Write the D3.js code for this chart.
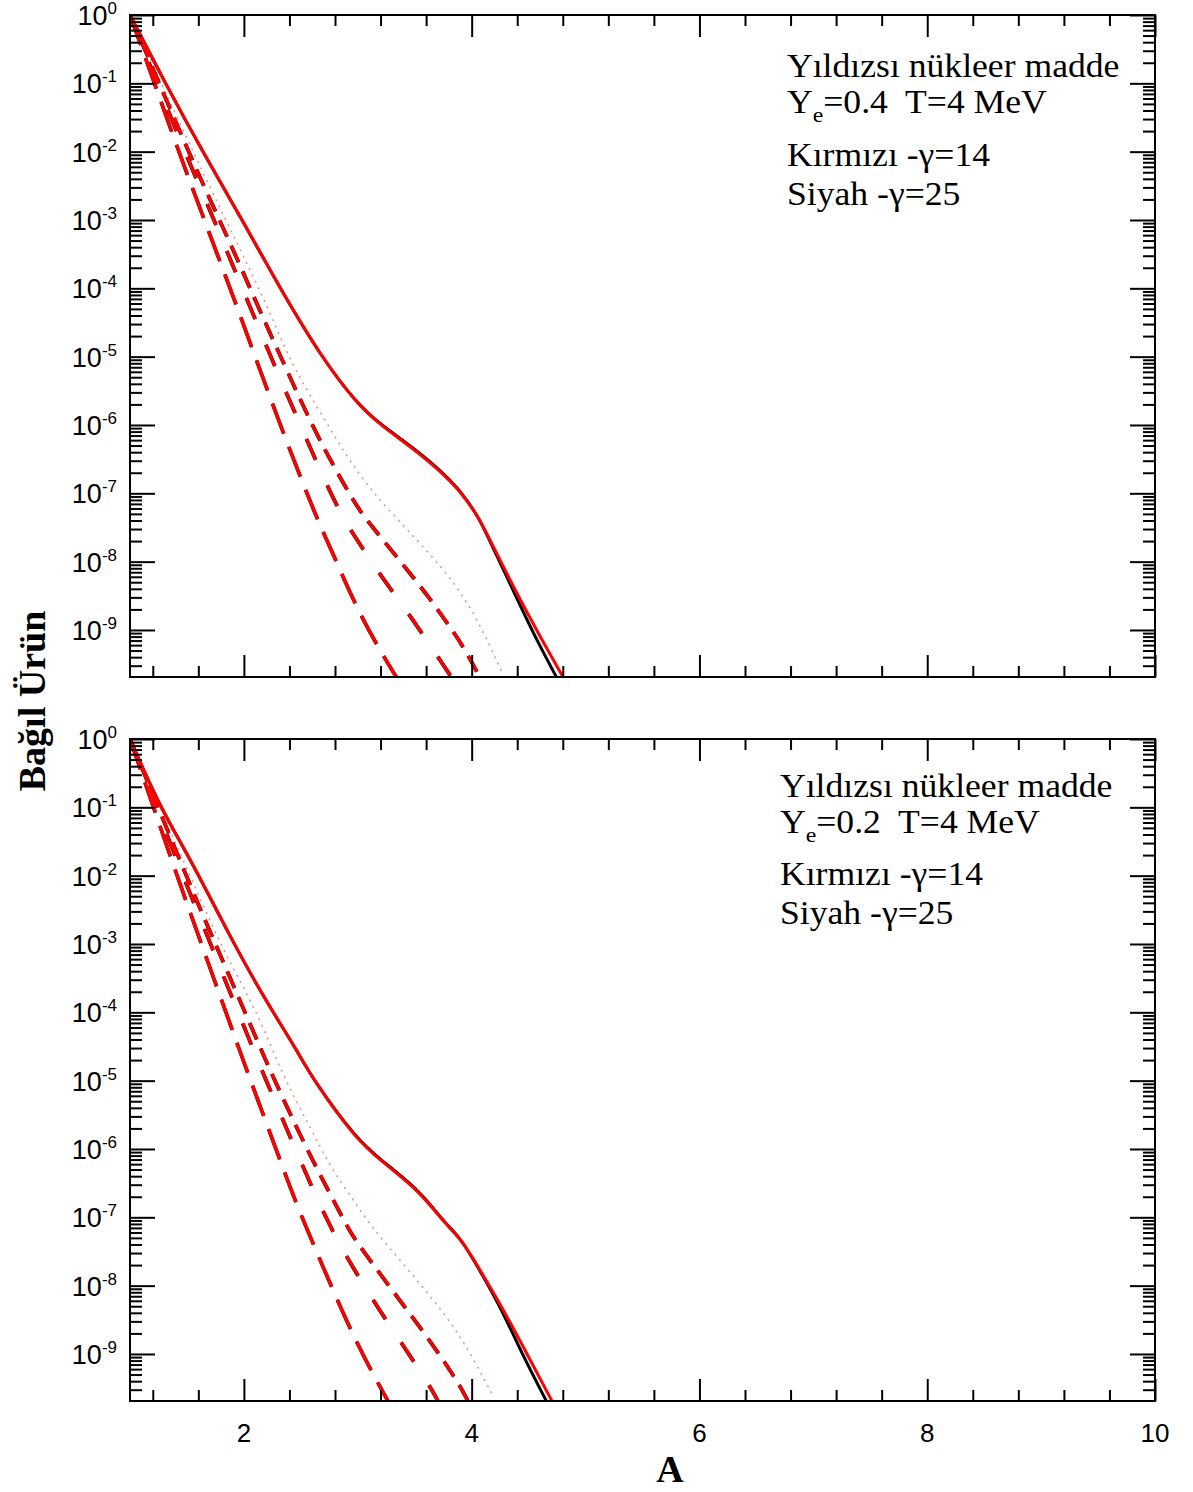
<!DOCTYPE html>
<html>
<head>
<meta charset="utf-8">
<script src="https://cdn.jsdelivr.net/npm/d3@7"></script>
<style>
  body { margin: 0; background: #fff; }
  text { white-space: pre; }
</style>
</head>
<body>
<svg id="chart" width="1193" height="1492"></svg>
<script>
// ---- data: [A, log10(relative yield)] ----
const xMajorTicks = [2, 4, 6, 8, 10];
const yExponents = [0, -1, -2, -3, -4, -5, -6, -7, -8, -9];

// upper panel, Ye = 0.4
const topSolidRed = [[1, 0], [1.31, -1.0], [1.638, -2.0], [1.986, -3.0], [2.317, -4.0], [2.697, -5.049],
  [2.991, -5.683], [3.195, -6.0], [3.546, -6.415], [3.839, -6.854], [3.956, -7.098], [4.073, -7.391],
  [4.132, -7.586], [4.395, -8.463], [4.585, -9.049], [4.805, -9.699]];
const topSolidBlack = [[1, 0], [1.31, -1.0], [1.638, -2.0], [1.986, -3.0], [2.317, -4.0], [2.697, -5.049],
  [2.991, -5.68], [3.195, -5.99], [3.546, -6.40], [3.839, -6.84], [3.956, -7.09], [4.073, -7.39],
  [4.132, -7.6], [4.395, -8.53], [4.541, -9.049], [4.747, -9.699]];
const topLongDash = [[1, 0], [1.278, -1.292], [1.41, -1.917], [1.65, -2.99], [1.937, -4.254], [2.074, -4.892],
  [2.355, -6.161], [2.645, -7.391], [2.756, -7.781], [2.996, -8.708], [3.21, -9.341], [3.342, -9.699]];
const topDash1 = [[1, 0], [1.474, -1.986], [1.717, -2.912], [1.878, -3.571], [2.045, -4.229], [2.206, -4.888],
  [2.545, -6.195], [2.721, -6.854], [2.829, -7.219], [2.879, -7.391], [3.18, -8.162], [3.473, -8.815],
  [3.825, -9.699]];
const topDash2 = [[1, 0], [1.615, -2.4], [1.867, -3.283], [2.133, -4.303], [2.317, -4.976], [2.595, -6.0],
  [2.815, -6.684], [2.976, -7.146], [3.063, -7.366], [3.57, -8.39], [3.766, -8.857], [3.912, -9.195],
  [4.073, -9.699]];
const topDotted = [[1, 0], [1.586, -2.122], [1.849, -3.025], [2.025, -3.634], [2.229, -4.342], [2.405, -5.074],
  [2.668, -5.806], [2.903, -6.464], [3.136, -7.0], [3.342, -7.366], [3.546, -7.732], [3.81, -8.22],
  [4.044, -8.806], [4.278, -9.659]];

// lower panel, Ye = 0.2
const botSolidRed = [[1, 0], [1.263, -1.0], [1.536, -1.771], [1.878, -2.893], [2.17, -3.771], [2.464, -4.551],
  [2.609, -4.99], [2.991, -5.869], [3.195, -6.161], [3.546, -6.625], [3.737, -7.039], [3.897, -7.307],
  [3.985, -7.527], [4.249, -8.258], [4.483, -8.99], [4.708, -9.698]];
const botSolidBlack = [[1, 0], [1.263, -1.0], [1.536, -1.771], [1.878, -2.893], [2.17, -3.771], [2.464, -4.551],
  [2.609, -4.99], [2.991, -5.86], [3.195, -6.15], [3.546, -6.61], [3.737, -7.03], [3.897, -7.30],
  [3.985, -7.53], [4.249, -8.29], [4.439, -8.99], [4.659, -9.698]];
const botLongDash = [[1, 0], [1.395, -1.917], [1.623, -2.981], [1.896, -4.249], [2.033, -4.884], [2.317, -6.161],
  [2.458, -6.795], [2.595, -7.332], [2.668, -7.625], [2.947, -8.697], [3.145, -9.332], [3.268, -9.698]];
const botDash1 = [[1, 0], [1.454, -1.965], [1.688, -2.917], [1.843, -3.566], [2.001, -4.21], [2.162, -4.869],
  [2.499, -6.186], [2.674, -6.845], [2.785, -7.211], [2.815, -7.332], [3.107, -8.152], [3.371, -8.806],
  [3.628, -9.454], [3.707, -9.698]];
const botDash2 = [[1, 0], [1.586, -2.381], [1.825, -3.283], [2.089, -4.307], [2.264, -4.98], [2.551, -6.0],
  [2.762, -6.674], [2.908, -7.137], [2.976, -7.332], [3.289, -8.039], [3.599, -8.722], [3.874, -9.391],
  [3.97, -9.698]];
const botDotted = [[1, 0], [1.6, -2.283], [1.834, -3.136], [1.995, -3.625], [2.17, -4.21], [2.346, -4.942],
  [2.58, -5.674], [2.756, -6.259], [2.961, -6.747], [3.107, -7.113], [3.356, -7.6], [3.605, -8.088],
  [3.825, -8.551], [4.014, -9.063], [4.19, -9.625]];

const legendLines = ['Yıldızsı nükleer madde', 'Kırmızı -γ=14', 'Siyah -γ=25'];

// ---- layout ----
const svg = d3.select('#chart');
const left = 130, right = 1155;
const yMin = 2.05e-10;
const serif = '"Liberation Serif", "Times New Roman", serif';
const sans = '"Liberation Sans", Arial, sans-serif';

const x = d3.scaleLinear().domain([1, 10]).range([left, right]);

const panels = [
  { top: 15, bottom: 677, ye: '0.4', lx: 787, ly: [77, 113, 166, 205], xLabels: false,
    solidRed: topSolidRed, solidBlack: topSolidBlack, longDash: topLongDash,
    dash1: topDash1, dash2: topDash2, dotted: topDotted },
  { top: 739, bottom: 1401, ye: '0.2', lx: 780, ly: [797, 833, 885, 924], xLabels: true,
    solidRed: botSolidRed, solidBlack: botSolidBlack, longDash: botLongDash,
    dash1: botDash1, dash2: botDash2, dotted: botDotted },
];

const xMinor = d3.range(1.2, 10, 0.4).filter((v) => Math.abs(v / 2 - Math.round(v / 2)) > 0.01);
const yMajor = yExponents.map((e) => Math.pow(10, e));
const yMinor = [];
for (let e = -10; e < 0; e++) {
  for (let k = 2; k <= 9; k++) {
    const v = k * Math.pow(10, e);
    if (v >= yMin && v < 1) yMinor.push(v);
  }
}

panels.forEach((p, i) => {
  const y = d3.scaleLog().domain([yMin, 1]).range([p.bottom, p.top]);
  const g = svg.append('g');

  g.append('clipPath').attr('id', `clip${i}`)
    .append('rect')
    .attr('x', left).attr('y', p.top)
    .attr('width', right - left).attr('height', p.bottom - p.top);

  const line = d3.line()
    .x((d) => x(d[0]))
    .y((d) => y(Math.pow(10, d[1])))
    .curve(d3.curveBasis);

  const plot = g.append('g').attr('clip-path', `url(#clip${i})`).attr('fill', 'none');

  // faint dotted curve
  plot.append('path').attr('d', line(p.dotted))
    .attr('stroke', '#ec8a8a').attr('stroke-width', 1.5).attr('stroke-dasharray', '2,5');

  // black (gamma = 25) underneath
  plot.append('path').attr('d', line(p.longDash))
    .attr('stroke', '#000').attr('stroke-width', 3.6).attr('stroke-dasharray', '32,14');
  plot.append('path').attr('d', line(p.dash1))
    .attr('stroke', '#000').attr('stroke-width', 3.8).attr('stroke-dasharray', '23,28');
  plot.append('path').attr('d', line(p.dash2))
    .attr('stroke', '#000').attr('stroke-width', 3.8).attr('stroke-dasharray', '18,10');
  plot.append('path').attr('d', line(p.solidBlack))
    .attr('stroke', '#000').attr('stroke-width', 3);

  // red (gamma = 14) on top
  plot.append('path').attr('d', line(p.longDash))
    .attr('stroke', '#ff0000').attr('stroke-width', 3.4).attr('stroke-dasharray', '32,14');
  plot.append('path').attr('d', line(p.dash1))
    .attr('stroke', '#ff0000').attr('stroke-width', 3.2).attr('stroke-dasharray', '23,28');
  plot.append('path').attr('d', line(p.dash2))
    .attr('stroke', '#ff0000').attr('stroke-width', 3.2).attr('stroke-dasharray', '18,10');
  plot.append('path').attr('d', line(p.solidRed))
    .attr('stroke', '#ff0000').attr('stroke-width', 3);

  // axes, ticks pointing inward
  const axes = g.append('g');
  const addAxis = (axis, tx, ty) => {
    const a = axes.append('g').attr('transform', `translate(${tx},${ty})`).call(axis);
    a.selectAll('text').remove();
    a.select('.domain').remove();
    a.selectAll('line').attr('stroke', '#000').attr('stroke-width', 2);
  };
  addAxis(d3.axisLeft(y).tickValues(yMajor).tickSize(-25), left, 0);
  addAxis(d3.axisLeft(y).tickValues(yMinor).tickSize(-12), left, 0);
  addAxis(d3.axisRight(y).tickValues(yMajor).tickSize(-25), right, 0);
  addAxis(d3.axisRight(y).tickValues(yMinor).tickSize(-12), right, 0);
  addAxis(d3.axisTop(x).tickValues(xMajorTicks).tickSize(-22), 0, p.top);
  addAxis(d3.axisTop(x).tickValues(xMinor).tickSize(-11), 0, p.top);
  addAxis(d3.axisBottom(x).tickValues(xMajorTicks).tickSize(-22), 0, p.bottom);
  addAxis(d3.axisBottom(x).tickValues(xMinor).tickSize(-11), 0, p.bottom);

  g.append('rect')
    .attr('x', left).attr('y', p.top)
    .attr('width', right - left).attr('height', p.bottom - p.top)
    .attr('fill', 'none').attr('stroke', '#000').attr('stroke-width', 2);

  // y tick labels 10^n
  yExponents.forEach((e) => {
    const t = g.append('text')
      .attr('x', 117).attr('y', y(Math.pow(10, e)) + 10)
      .attr('text-anchor', 'end')
      .attr('font-family', sans).attr('font-size', 27);
    t.append('tspan').text('10');
    t.append('tspan').attr('dy', -11).attr('font-size', 17).text(String(e));
  });

  if (p.xLabels) {
    g.selectAll('.xl').data(xMajorTicks).enter().append('text')
      .attr('x', (d) => x(d)).attr('y', p.bottom + 41)
      .attr('text-anchor', 'middle')
      .attr('font-family', sans).attr('font-size', 26)
      .text((d) => d);
  }

  // legend text
  const lg = g.append('g')
    .attr('transform', `translate(${p.lx},0) scale(1.08,1)`)
    .attr('font-family', serif).attr('font-size', 33).attr('fill', '#000');
  lg.append('text').attr('x', 0).attr('y', p.ly[0]).text(legendLines[0]);
  const ye = lg.append('text').attr('x', 0).attr('y', p.ly[1]);
  ye.append('tspan').text('Y');
  ye.append('tspan').attr('dy', 9).attr('font-size', 22).text('e');
  ye.append('tspan').attr('dy', -9).text(`=${p.ye}  T=4 MeV`);
  lg.append('text').attr('x', 0).attr('y', p.ly[2]).text(legendLines[1]);
  lg.append('text').attr('x', 0).attr('y', p.ly[3]).text(legendLines[2]);
});

// axis titles
svg.append('text')
  .attr('transform', 'translate(45,701) rotate(-90)')
  .attr('text-anchor', 'middle')
  .attr('font-family', serif).attr('font-weight', 'bold').attr('font-size', 38)
  .text('Bağıl Ürün');

svg.append('text')
  .attr('x', 670).attr('y', 1482)
  .attr('text-anchor', 'middle')
  .attr('font-family', serif).attr('font-weight', 'bold').attr('font-size', 38)
  .text('A');
</script>
</body>
</html>
